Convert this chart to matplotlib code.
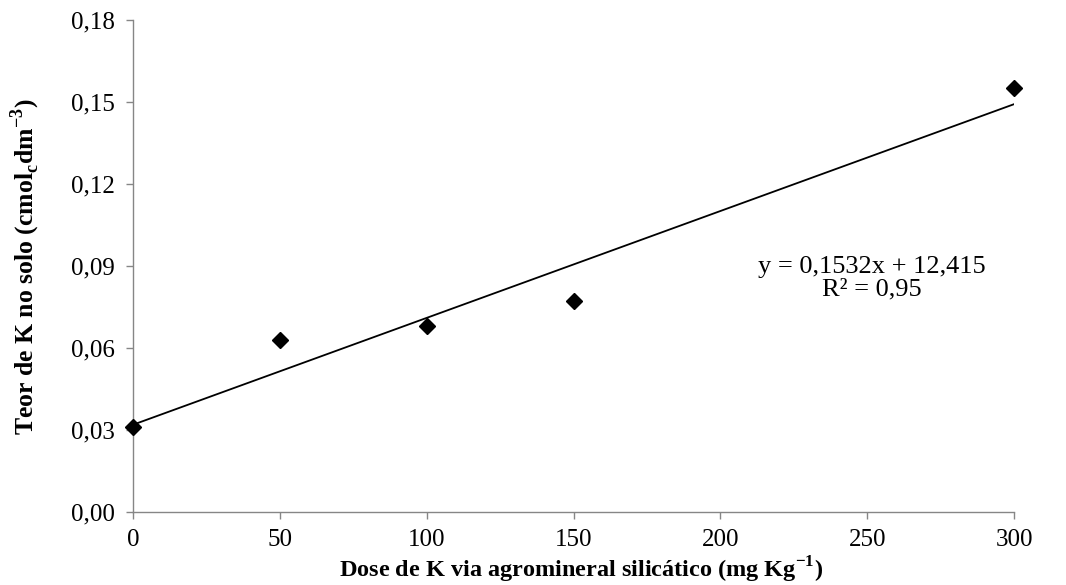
import numpy as np
import matplotlib
matplotlib.use("Agg")
import matplotlib.pyplot as plt
from matplotlib.ticker import FuncFormatter

plt.rcParams["font.family"] = ["Liberation Serif", "DejaVu Serif"]
plt.rcParams["mathtext.fontset"] = "custom"
plt.rcParams["mathtext.rm"] = "Liberation Serif"
plt.rcParams["mathtext.bf"] = "Liberation Serif:bold"

# -------------------------------
# DATA
# -------------------------------

dose = np.array([0, 50, 100, 150, 300])
teor_k = np.array([0.031, 0.063, 0.068, 0.077, 0.155])

x_ticks = [0, 50, 100, 150, 200, 250, 300]
y_ticks = [0.00, 0.03, 0.06, 0.09, 0.12, 0.15, 0.18]

equation = "y = 0,1532x + 12,415"
r_squared = "R² = 0,95"

# linear trend line
slope, intercept = np.polyfit(dose, teor_k, 1)
x_fit = np.array([dose.min(), dose.max()])
y_fit = slope * x_fit + intercept

# -------------------------------
# FIGURE
# -------------------------------

fig = plt.figure(figsize=(10.66, 5.85), dpi=100)
ax = fig.add_axes([0.1248, 0.125, 0.8265, 0.841])

ax.plot(x_fit, y_fit, color="black", linewidth=1.3, zorder=2)
ax.plot(dose, teor_k, linestyle="none", marker="D", markersize=8.3,
        color="black", zorder=3, clip_on=False)

ax.set_xlim(0, 300)
ax.set_ylim(0, 0.18)
ax.set_xticks(x_ticks)
ax.set_yticks(y_ticks)
ax.yaxis.set_major_formatter(FuncFormatter(lambda v, p: f"{v:.2f}".replace(".", ",")))

for side in ["top", "right"]:
    ax.spines[side].set_visible(False)
for side in ["left", "bottom"]:
    ax.spines[side].set_color("#868686")
    ax.spines[side].set_linewidth(1.0)

ax.tick_params(axis="both", direction="out", length=5, width=1.0,
               color="#868686", labelsize=18, labelcolor="black")
ax.tick_params(axis="x", pad=7)
ax.tick_params(axis="y", pad=8)

ax.text(251.5, 0.0855, equation + "\n" + r_squared, ha="center", va="center",
        fontsize=19, linespacing=1.05)

fig.text(0.545, 0.026,
         r"Dose de K via agromineral silicático (mg Kg$^{\mathbf{-1}}$)",
         ha="center", va="center", fontsize=17.5, fontweight="bold")
fig.text(0.024, 0.545,
         r"Teor de K no solo (cmol$_{\mathbf{c}}$dm$^{\mathbf{-3}}$)",
         ha="center", va="center", rotation=90, fontsize=18.5, fontweight="bold")

fig.savefig("out.png", dpi=100)
plt.close(fig)
